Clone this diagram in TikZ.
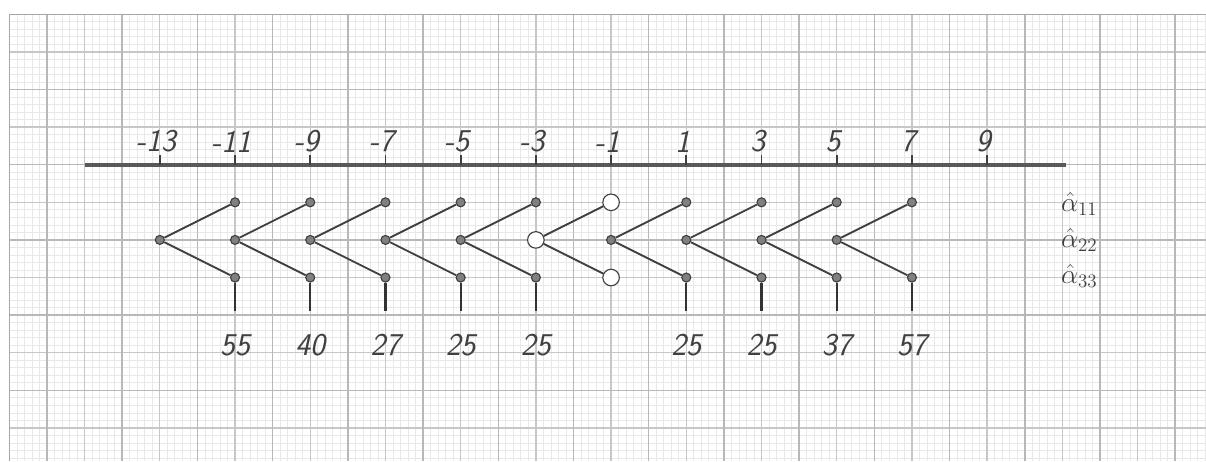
\documentclass[tikz,border=0pt]{standalone}
\usepackage{amsmath}
\usepackage{tikz}
\tikzset{
  dot/.style={circle,draw=black!75,fill=black!50,line width=0.3mm,inner sep=0pt,minimum size=2.4mm},
  hollow/.style={circle,draw=black!75,fill=white,line width=0.3mm,inner sep=0pt,minimum size=4.4mm},
  branch/.style={draw=black!75,line width=0.5mm},
  stem/.style={draw=black!80,line width=0.6mm},
  hand/.style={font=\fontsize{24}{28}\selectfont\sffamily\slshape,text=black!75},
  rowlab/.style={font=\fontsize{22}{26}\selectfont,text=black!75,inner sep=0pt},
}
\begin{document}
\begin{tikzpicture}
\useasboundingbox (-17.25,0.12) rectangle (14.82,12.38);
% graph paper
\draw[step=0.2,black!9,line width=0.2mm] (-17,0.12) grid (14.82,12);
\draw[step=1,black!22,line width=0.35mm] (-17,0.12) grid (14.82,12);
\draw[step=2,black!28,line width=0.4mm] (-17,0.12) grid (14.82,12);
\draw[black!35,line width=0.4mm] (-17,0.12) -- (-17,12) -- (14.82,12);

% axis
\coordinate (axL) at (-15,8);
\coordinate (axR) at (11.1,8);
\draw[black!65,line width=1mm] (axL) -- (axR);

% ticks and labels
\foreach \x in {-13,-11,...,9}{
  \coordinate (tk\x) at (\x,8);
  \coordinate (tt\x) at (\x,8.25);
  \draw[black!75,line width=0.5mm] (tk\x) -- (tt\x);
  \node[hand] (lab\x) at (\x-0.1,8.62) {\x};
}

% left vertices
\foreach \c/\s in {0/dot,1/dot,2/dot,3/dot,4/dot,5/hollow,6/dot,7/dot,8/dot,9/dot}
  \node[\s] (m\c) at ({-13+2*\c},6) {};

% upper and lower ends
\foreach \c/\s in {1/dot,2/dot,3/dot,4/dot,5/dot,6/hollow,7/dot,8/dot,9/dot,10/dot}{
  \node[\s] (t\c) at ({-13+2*\c},7) {};
  \node[\s] (b\c) at ({-13+2*\c},5) {};
}

% branches
\foreach \c in {0,...,9}{
  \pgfmathtruncatemacro\d{\c+1}
  \draw[branch] (m\c) -- (t\d);
  \draw[branch] (m\c) -- (b\d);
}

% stems with counts
\foreach \c/\n in {1/55,2/40,3/27,4/25,5/25,7/25,8/25,9/37,10/57}{
  \coordinate (s\c) at ({-13+2*\c},4.1);
  \draw[stem] (b\c) -- (s\c);
  \node[hand] (n\c) at ({-13+2*\c},3.2) {\n};
}

% row labels
\node[rowlab] (a11) at (11.45,6.95) {$\hat{\alpha}_{11}$};
\node[rowlab] (a22) at (11.45,6) {$\hat{\alpha}_{22}$};
\node[rowlab] (a33) at (11.45,5.05) {$\hat{\alpha}_{33}$};
\end{tikzpicture}
\end{document}
